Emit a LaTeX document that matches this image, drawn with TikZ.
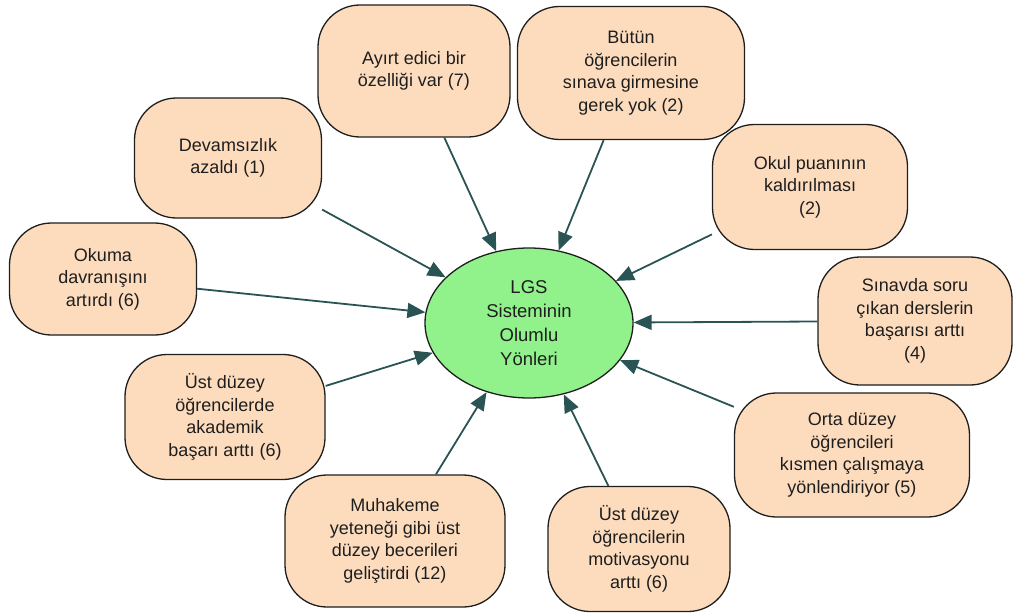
\documentclass[tikz,border=0pt]{standalone}
\usepackage{fontspec}
\setmainfont{Liberation Sans}
\usetikzlibrary{arrows.meta,shapes.geometric}
\definecolor{peach}{RGB}{253,220,190}
\definecolor{mintgreen}{RGB}{145,242,140}
\definecolor{linkteal}{RGB}{42,84,84}
\definecolor{ink}{RGB}{30,30,30}
\tikzset{
  idea/.style={draw=ink, line width=1.3pt, fill=peach, rectangle, rounded corners=42pt,
    align=center, text=ink, inner sep=2pt,
    font=\fontsize{18}{22.5}\selectfont},
  hub/.style={draw=ink, line width=1.3pt, fill=mintgreen, ellipse, inner sep=0pt,
    minimum width=208pt, minimum height=150pt, align=center, text=ink,
    font=\fontsize{18.5}{24}\selectfont},
  link/.style={draw=linkteal, line width=1.8pt,
    -{Triangle[length=18pt,width=15pt,fill=linkteal]}}
}
\begin{document}
\begin{tikzpicture}[x=1pt,y=-1pt]
  \useasboundingbox (0,0) rectangle (1014,615);

  % central node
  \node[hub] (lgs) at (529,323) {LGS\\Sisteminin\\Olumlu\\Yönleri};

  % surrounding statements
  \node[idea, minimum width=192pt, minimum height=132pt] (ayirt) at (414,71)
    {Ayırt edici bir\\özelliği var (7)};
  \node[idea, minimum width=227pt, minimum height=133pt] (butun) at (631,73)
    {Bütün\\öğrencilerin\\sınava girmesine\\gerek yok (2)};
  \node[idea, minimum width=187pt, minimum height=120pt] (devam) at (228,158)
    {Devamsızlık\\azaldı (1)};
  \node[idea, minimum width=187pt, minimum height=112pt] (okuma) at (103,279)
    {Okuma\\davranışını\\artırdı (6)};
  \node[idea, minimum width=195pt, minimum height=125pt] (okul) at (810,187)
    {Okul puanının\\kaldırılması\\(2)};
  \node[idea, minimum width=194pt, minimum height=128pt] (sinav) at (915,321)
    {Sınavda soru\\çıkan derslerin\\başarısı arttı\\(4)};
  \node[idea, minimum width=200pt, minimum height=125pt] (ustaka) at (225,417)
    {Üst düzey\\öğrencilerde\\akademik\\başarı arttı (6)};
  \node[idea, minimum width=220pt, minimum height=132pt] (muhak) at (395,541)
    {Muhakeme\\yeteneği gibi üst\\düzey becerileri\\geliştirdi (12)};
  \node[idea, minimum width=182pt, minimum height=125pt] (ustmot) at (639,549)
    {Üst düzey\\öğrencilerin\\motivasyonu\\arttı (6)};
  \node[idea, minimum width=235pt, minimum height=124pt] (orta) at (852,455)
    {Orta düzey\\öğrencileri\\kısmen çalışmaya\\yönlendiriyor (5)};

  % connectors into the hub
  \foreach \src in {ayirt,butun,devam,okuma,okul,sinav,ustaka,muhak,ustmot,orta}
    \draw[link] (\src) -- (lgs);
\end{tikzpicture}
\end{document}
